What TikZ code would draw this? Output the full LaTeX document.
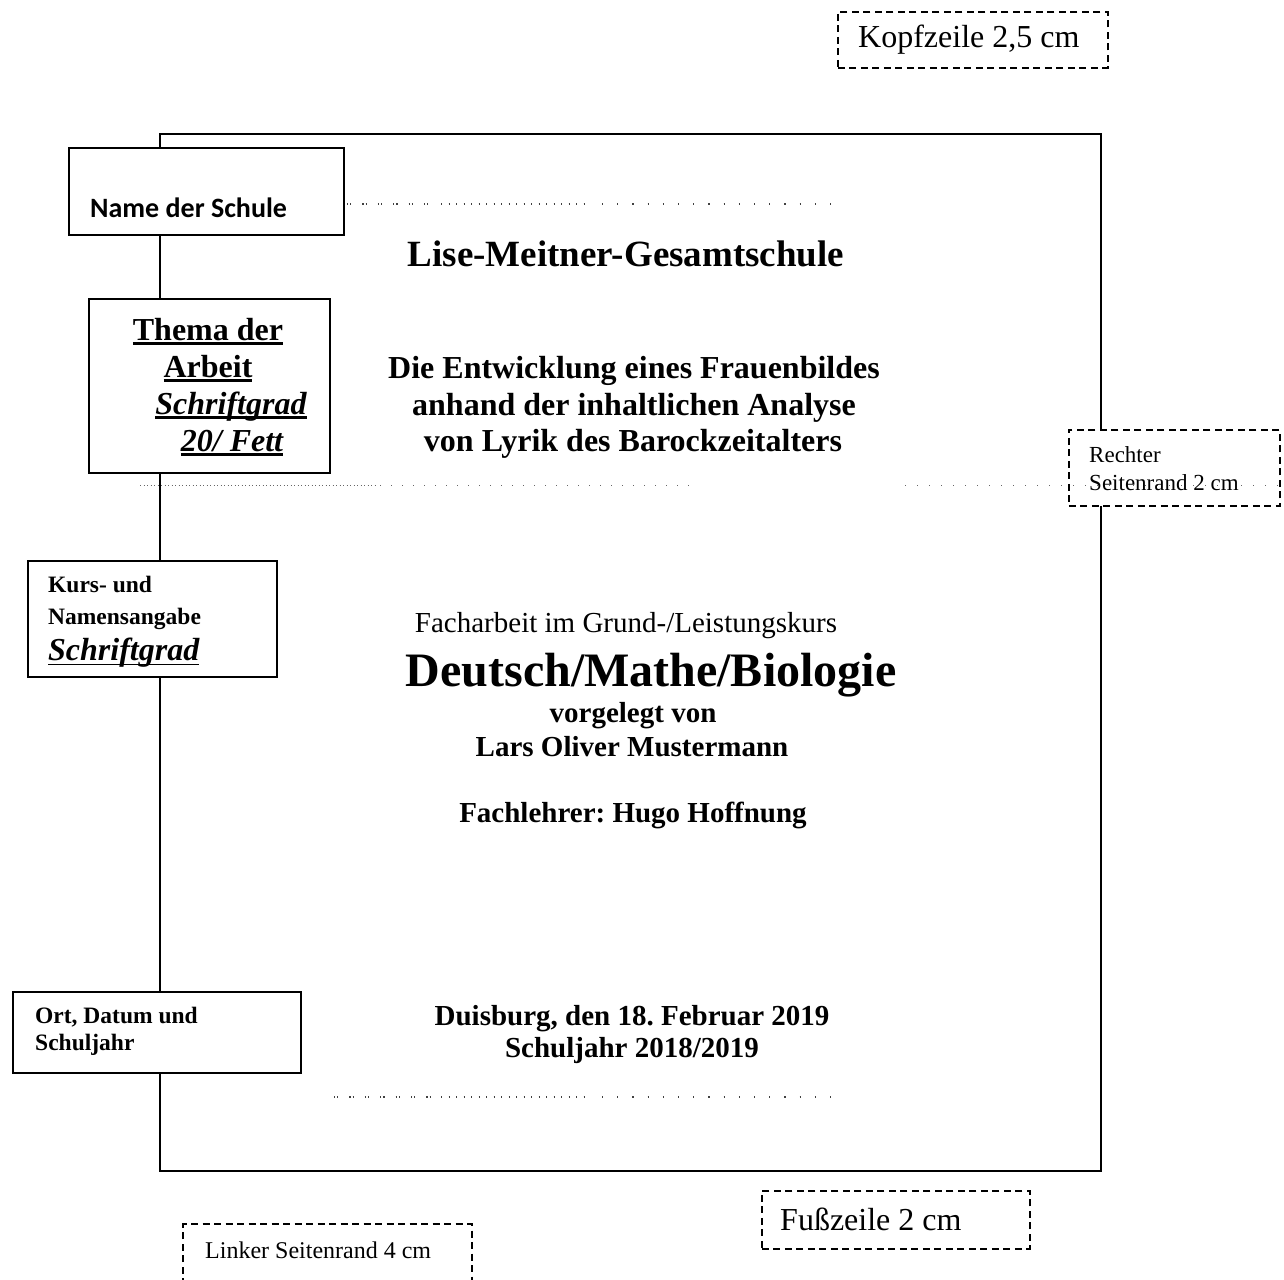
\documentclass[tikz,border=0pt]{standalone}
\usepackage{fontspec}
\setmainfont{Liberation Serif}
\newfontfamily\calibrifont{Carlito}
\newcommand{\fsz}[1]{\fontsize{#1}{#1}\selectfont}
\newcommand{\thickul}[3]{\leavevmode\setbox0\hbox{#1}\rlap{\rule[-#2]{\wd0}{#3}}\box0}
\frenchspacing
\begin{document}
\begin{tikzpicture}[x=1pt,y=-1pt,
  solidbox/.style={draw, line width=1.8pt, fill=white, inner sep=0pt, anchor=north west},
  dashbox/.style={draw, line width=1.6pt, dash pattern=on 7pt off 4.5pt, fill=white, inner sep=0pt, anchor=north west},
  ctext/.style={inner sep=0pt, anchor=base},
  ltext/.style={inner sep=0pt, anchor=base west},
  dotline/.style={line width=1.3pt, black!75},
]
\useasboundingbox (0,0) rectangle (1284,1279);
\fill[white] (0,0) rectangle (1284,1279);

% page frame
\node[draw, line width=1.8pt, inner sep=0pt, anchor=north west, minimum width=941pt, minimum height=1037pt] (page) at (159,133) {};

% solid label boxes
\node[solidbox, minimum width=275pt, minimum height=87pt] (nbox) at (68,147) {};
\node[solidbox, minimum width=241pt, minimum height=174pt] (tbox) at (88,298) {};
\node[solidbox, minimum width=249pt, minimum height=116pt] (kbox) at (27,560) {};
\node[solidbox, minimum width=288pt, minimum height=81pt] (obox) at (12,991) {};

% dashed boxes
\node[dashbox, minimum width=270pt, minimum height=56pt] (kopf) at (837,11) {};
\node[dashbox, minimum width=211pt, minimum height=76pt] (rechts) at (1068,429) {};
\node[dashbox, minimum width=268pt, minimum height=58pt] (fuss) at (761,1190) {};
\coordinate (lk1) at (183,1285);
\coordinate (lk2) at (183,1224);
\coordinate (lk3) at (472,1224);
\coordinate (lk4) at (472,1285);
\draw[line width=1.6pt, dash pattern=on 7pt off 4.5pt] (lk1) -- (lk2) -- (lk3) -- (lk4);

% dotted guide lines
\coordinate (d1a) at (347,204); \coordinate (d1b) at (436,204);
\coordinate (d1c) at (441,204); \coordinate (d1d) at (590,204);
\coordinate (d1e) at (602,204); \coordinate (d1f) at (842,204);
\draw[dotline, dash pattern=on 1.2pt off 2pt on 1.2pt off 11pt] (d1a) -- (d1b);
\draw[dotline, dash pattern=on 1.2pt off 6.3pt] (d1c) -- (d1d);
\draw[dotline, dash pattern=on 1.2pt off 14pt] (d1e) -- (d1f);

\coordinate (d2a) at (334,1097); \coordinate (d2b) at (436,1097);
\coordinate (d2c) at (441,1097); \coordinate (d2d) at (590,1097);
\coordinate (d2e) at (602,1097); \coordinate (d2f) at (842,1097);
\draw[dotline, dash pattern=on 1.2pt off 2pt on 1.2pt off 11pt] (d2a) -- (d2b);
\draw[dotline, dash pattern=on 1.2pt off 6.3pt] (d2c) -- (d2d);
\draw[dotline, dash pattern=on 1.2pt off 14pt] (d2e) -- (d2f);

\coordinate (d3a) at (140,485); \coordinate (d3b) at (375,485);
\coordinate (d3c) at (380,485); \coordinate (d3d) at (690,485);
\coordinate (d3e) at (905,485); \coordinate (d3f) at (1284,485);
\draw[line width=1pt, black!60, dash pattern=on 1pt off 2.5pt] (d3a) -- (d3b);
\draw[line width=1pt, black!60, dash pattern=on 1pt off 10pt] (d3c) -- (d3d);
\draw[line width=1pt, black!60, dash pattern=on 1pt off 11pt] (d3e) -- (d3f);

% box texts
\node[ltext] (tname) at (90,217) {\calibrifont\bfseries\fsz{28}Name der Schule};
\node[ctext] (tth1) at (208,340) {\bfseries\fsz{32}\thickul{Thema der}{5pt}{2.8pt}};
\node[ctext] (tth2) at (208,377) {\bfseries\fsz{32}\thickul{Arbeit}{5pt}{2.8pt}};
\node[ctext] (tth3) at (231,414) {\bfseries\itshape\fsz{32}\thickul{Schriftgrad}{5pt}{2.8pt}};
\node[ctext] (tth4) at (232,451) {\bfseries\itshape\fsz{32}\thickul{20/ Fett}{5pt}{2.8pt}};
\node[ltext] (tk1) at (48,592) {\bfseries\fsz{23.5}Kurs- und};
\node[ltext] (tk2) at (48,624) {\bfseries\fsz{23.5}Namensangabe};
\node[ltext] (tk3) at (48,660) {\bfseries\itshape\fsz{32}\thickul{Schriftgrad}{5pt}{1.3pt}};
\node[ltext] (to1) at (35,1023) {\bfseries\fsz{23.5}Ort, Datum und};
\node[ltext] (to2) at (35,1050) {\bfseries\fsz{23.5}Schuljahr};
\node[ltext] (tkopf) at (858,48) {\fsz{32}Kopfzeile 2,5 cm};
\node[ltext] (tr1) at (1089,462) {\fsz{23}Rechter};
\node[ltext] (tr2) at (1089,490) {\fsz{23}Seitenrand 2 cm};
\node[ltext] (tfuss) at (780,1230) {\fsz{32}Fußzeile 2 cm};
\node[ltext] (tlinks) at (205,1258) {\fsz{24}Linker Seitenrand 4 cm};

% page content
\node[ctext] (lise) at (626,266) {\bfseries\fsz{37}Lise-Meitner-Gesamtschule};
\node[ctext] (th1) at (634,378) {\bfseries\fsz{32}Die Entwicklung eines Frauenbildes};
\node[ctext] (th2) at (634,415) {\bfseries\fsz{32}anhand der inhaltlichen Analyse};
\node[ctext] (th3) at (633,451) {\bfseries\fsz{32}von Lyrik des Barockzeitalters};
\node[ctext] (fach) at (626,632) {\fsz{29}Facharbeit im Grund-/Leistungskurs};
\node[ctext] (dmb) at (651,686) {\bfseries\fsz{48}Deutsch/Mathe/Biologie};
\node[ctext] (vorg) at (633,722) {\bfseries\fsz{29}vorgelegt von};
\node[ctext] (lars) at (632,756) {\bfseries\fsz{29}Lars Oliver Mustermann};
\node[ctext] (lehrer) at (633,822) {\bfseries\fsz{29}Fachlehrer: Hugo Hoffnung};
\node[ctext] (ort) at (632,1025) {\bfseries\fsz{29}Duisburg, den 18. Februar 2019};
\node[ctext] (jahr) at (632,1057) {\bfseries\fsz{29}Schuljahr 2018/2019};
\end{tikzpicture}
\end{document}
